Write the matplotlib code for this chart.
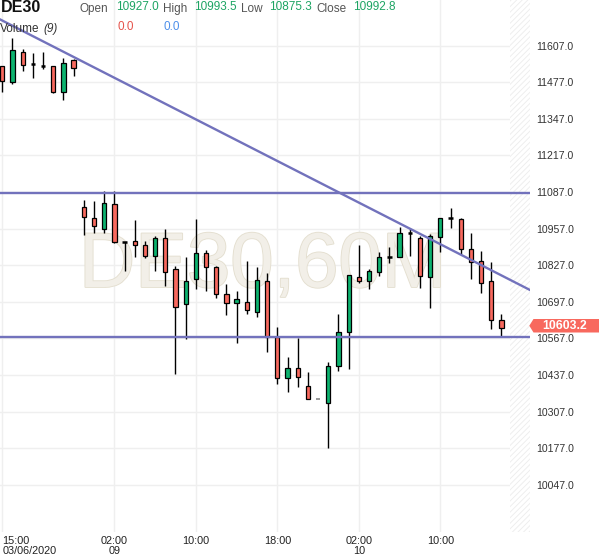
import matplotlib
matplotlib.use("Agg")
import matplotlib.pyplot as plt
from matplotlib.patches import Rectangle, Polygon
import matplotlib.patheffects as pe

plt.rcParams['font.family'] = ['Liberation Sans', 'DejaVu Sans']
plt.rcParams['hatch.linewidth'] = 0.6

# ---------------- data ----------------
opens = [11535, 11479, 11584, 11541, 11535, 11535, 11443, 11556,
         11035, 10994, 10955, 11043, 10910, 10913, 10899, 10861, 10923, 10812,
         10688, 10777, 10869, 10820, 10724, 10692, 10695, 10662, 10771, 10573,
         10425, 10461, 10398, 10350, 10336, 10470, 10589, 10784, 10772, 10804,
         10857, 10857, 10940, 10923, 10786, 10927.0, 10994, 10991, 10885, 10842,
         10771, 10632]
highs = [11536, 11633, 11595, 11582, 11584, 11536, 11564, 11560,
         11059, 11056, 11091, 11090, 10911, 10988, 10914, 10931, 10956, 10824,
         10855, 10990, 10881, 10825, 10759, 10735, 10842, 10822, 10798, 10606,
         10500, 10567, 10446, 10350, 10484, 10652, 10793, 10899, 10814, 10873,
         10890, 10962, 10955, 10932, 10937, 10993.5, 11029, 10994, 10940, 10879,
         10839, 10652]
lows = [11443, 11470, 11515, 11493, 11523, 11438, 11414, 11500,
        10934, 10940, 10940, 10905, 10808, 10857, 10854, 10808, 10753, 10439,
        10564, 10741, 10736, 10709, 10650, 10550, 10653, 10642, 10520, 10404,
        10375, 10395, 10350, 10350, 10176, 10452, 10457, 10765, 10742, 10790,
        10834, 10856, 10860, 10745, 10676, 10875.3, 10958, 10867, 10777, 10727,
        10599, 10573]
closes = [11483, 11592, 11538, 11541, 11535, 11443, 11544, 11527,
          10997, 10966, 11047, 10910, 10910, 10898, 10861, 10923, 10802, 10680,
          10771, 10870, 10822, 10724, 10692, 10707, 10668, 10774, 10573, 10425,
          10461, 10429, 10350, 10350, 10469, 10589, 10792, 10772, 10806, 10855,
          10857, 10940, 10940, 10789, 10931, 10992.8, 10994, 10885, 10839, 10763,
          10632, 10603.2]

x_tick_pos = [0, 11, 19, 27, 35, 43]
x_tick_labels = ["15:00\n03/06/2020", "02:00\n09", "10:00", "18:00", "02:00\n10", "10:00"]
y_ticks = [10047, 10177, 10307, 10437, 10567, 10697, 10827, 10957, 11087, 11217, 11347, 11477, 11607]

trend_pts = [(0, 11696), (50, 10772)]
h_levels = [11085, 10573]
last_price = 10603.2

header_symbol = "DE30"
header_fields = [("Open", "10927.0"), ("High", "10993.5"), ("Low", "10875.3"), ("Close", "10992.8")]
volume_vals = ["0.0", "0.0"]
watermark = "DE30,60M"

# ---------------- figure ----------------
W, H = 599, 558
fig = plt.figure(figsize=(W / 100, H / 100), dpi=100)
fig.patch.set_facecolor('white')

def fx(px):
    return px / W

def fy(py):
    return 1 - py / H

ax = fig.add_axes([0, fy(532), fx(530), 1 - fy(532)])
ax.set_facecolor('white')
for s in ax.spines.values():
    s.set_visible(False)

ax.set_xlim(-0.226, 51.8)
ax.set_ylim(9879, 11769)

GREEN = '#0DB36F'
RED = '#F8695E'
LINE = '#7272BC'

# grid
for yv in y_ticks:
    ax.axhline(yv, color='#EFEFEF', lw=1, zorder=0.3)
for xv in x_tick_pos:
    ax.axvline(xv, color='#EFEFEF', lw=1, zorder=0.3)

# hatched future area
ax.add_patch(Rectangle((49.8, 9879), 2.0, 11769 - 9879, facecolor='white',
                       edgecolor='#ECECEC', hatch='//////', lw=0, zorder=0.35))

# watermark
ax.text(fx(79), fy(287), watermark, transform=fig.transFigure, fontsize=56,
        color='#F2EFE8', ha='left', va='baseline', zorder=0.5,
        path_effects=[pe.withStroke(linewidth=1.3, foreground='#E4DFD0')])

# candles
bw = 0.42
for i, (o, h, l, c) in enumerate(zip(opens, highs, lows, closes)):
    if h == l:
        ax.plot([i - bw / 2, i + bw / 2], [o, o], color='#888888', lw=1.2, zorder=3,
                solid_capstyle='butt')
        continue
    ax.plot([i, i], [l, h], color='black', lw=1.0, zorder=2, solid_capstyle='butt')
    if abs(o - c) < 2:
        ax.plot([i - bw / 2, i + bw / 2], [o, o], color='black', lw=1.8, zorder=3,
                solid_capstyle='butt')
    else:
        col = GREEN if c > o else RED
        ax.add_patch(Rectangle((i - bw / 2, min(o, c)), bw, abs(c - o),
                               facecolor=col, edgecolor='black', lw=0.9, zorder=3))

# drawn lines
ax.axline(trend_pts[0], trend_pts[1], color=LINE, lw=1.7, zorder=4)
for lv in h_levels:
    ax.axhline(lv, color=LINE, lw=1.7, zorder=4)

# axes ticks
ax.yaxis.tick_right()
ax.set_yticks(y_ticks)
ax.set_yticklabels([f"{v:.1f}" for v in y_ticks])
ax.tick_params(axis='y', length=0, pad=4.5, labelsize=7.6, labelcolor='#333333')
ax.set_xticks(x_tick_pos)
ax.set_xticklabels(x_tick_labels)
ax.tick_params(axis='x', length=0, pad=3, labelsize=7.8, labelcolor='#222222')
for t in ax.get_xticklabels():
    t.set_linespacing(0.95)
ax.get_xticklabels()[0].set_ha('left')

# last price label
box = Polygon([(fx(529.3), fy(325.7)), (fx(533.5), fy(319)), (fx(599), fy(319)),
               (fx(599), fy(332.5)), (fx(533.5), fy(332.5))], closed=True,
              transform=fig.transFigure, facecolor=RED, edgecolor='none', zorder=10)
fig.add_artist(box)
fig.text(fx(564.5), fy(326), f"{last_price:.1f}", color='white', fontsize=8.8,
         fontweight='bold', ha='center', va='center', zorder=11)

# header
fig.text(fx(0.5), fy(7.8), header_symbol, fontsize=11.5, fontweight='bold',
         color='#111111', ha='left', va='center', zorder=12)
label_x = [79, 163, 241, 316]
value_x = [116, 194, 269, 353]
for (lab, val), lx, vx in zip(header_fields, label_x, value_x):
    fig.text(fx(lx), fy(8.8), lab, fontsize=8.5, color='#555555', ha='left', va='center', zorder=12)
    fig.text(fx(vx), fy(7.3), val, fontsize=8.5, color='#1DA463', ha='left', va='center', zorder=12)
fig.text(fx(0), fy(29), "Volume", fontsize=8.5, color='#333333', ha='left', va='center', zorder=12)
fig.text(fx(43.5), fy(29), "(9)", fontsize=8.5, color='#333333', style='italic',
         ha='left', va='center', zorder=12)
fig.text(fx(118), fy(26.7), volume_vals[0], fontsize=8.5, color='#E5534B', ha='left', va='center', zorder=12)
fig.text(fx(163), fy(26.7), volume_vals[1], fontsize=8.5, color='#4D8FEA', ha='left', va='center', zorder=12)

fig.savefig("out.png", dpi=100, facecolor='white')
